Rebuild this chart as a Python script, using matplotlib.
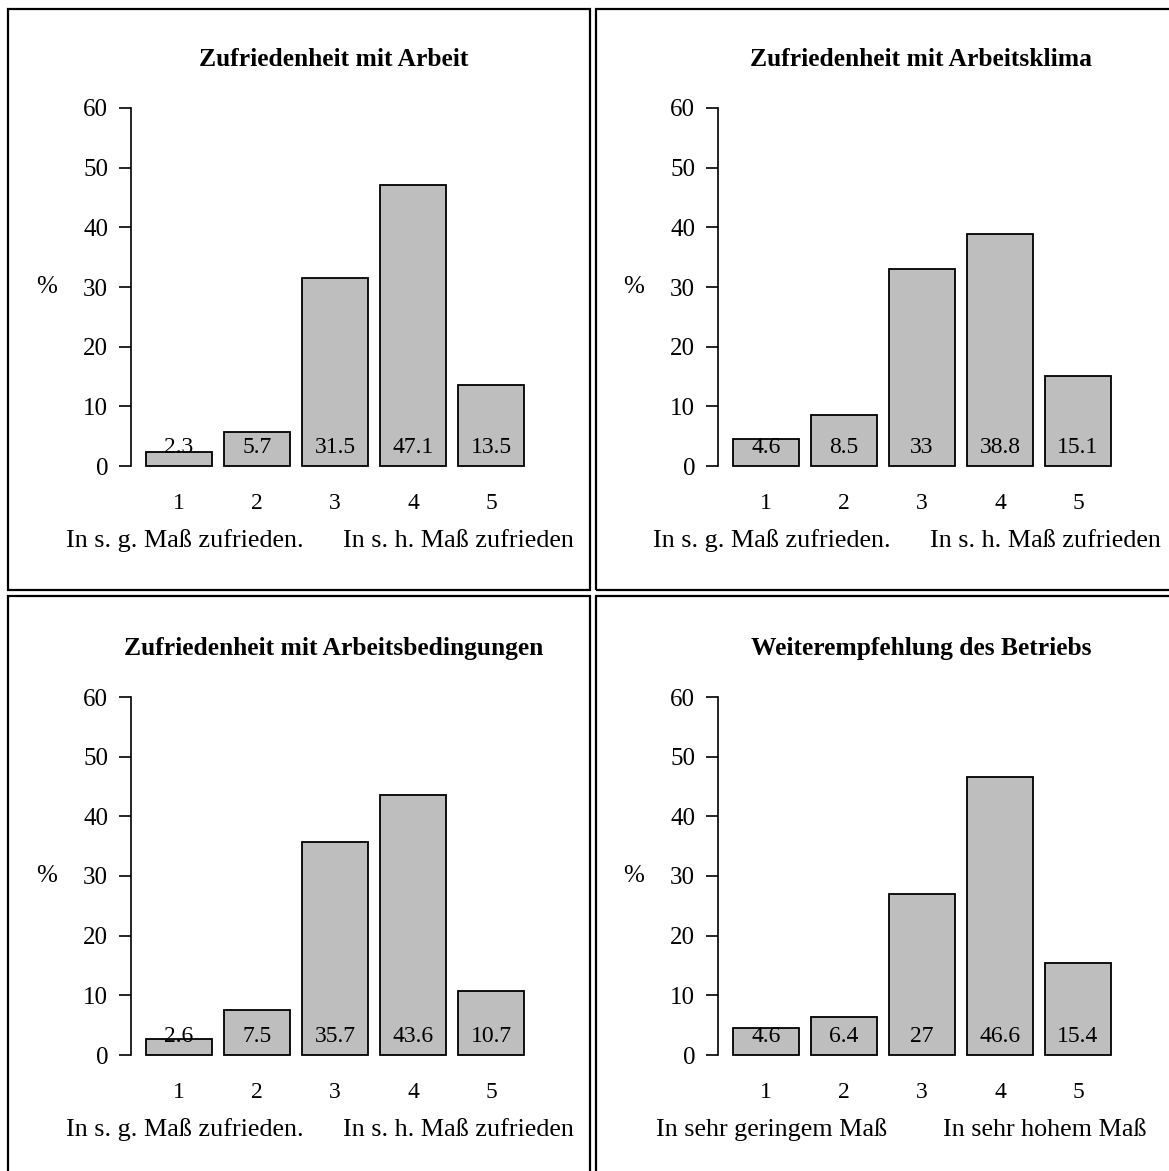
"""Four-panel bar chart: satisfaction survey (R base-graphics look)."""

import matplotlib
matplotlib.use("Agg")
import matplotlib.pyplot as plt
from matplotlib.patches import Rectangle

plt.rcParams["font.family"] = ["Liberation Serif", "DejaVu Serif"]

W, H = 1169, 1171

CATEGORIES = [1, 2, 3, 4, 5]
TITLES = [
    "Zufriedenheit mit Arbeit",
    "Zufriedenheit mit Arbeitsklima",
    "Zufriedenheit mit Arbeitsbedingungen",
    "Weiterempfehlung des Betriebs",
]
VALUES = [
    [2.3, 5.7, 31.5, 47.1, 13.5],
    [4.6, 8.5, 33, 38.8, 15.1],
    [2.6, 7.5, 35.7, 43.6, 10.7],
    [4.6, 6.4, 27, 46.6, 15.4],
]
LOW_LABELS = ["In s. g. Maß zufrieden.", "In s. g. Maß zufrieden.",
              "In s. g. Maß zufrieden.", "In sehr geringem Maß"]
HIGH_LABELS = ["In s. h. Maß zufrieden", "In s. h. Maß zufrieden",
               "In s. h. Maß zufrieden", "In sehr hohem Maß"]
Y_TICKS = [0, 10, 20, 30, 40, 50, 60]

# panel offsets in pixels (top-left corner of each framed panel)
OFFSETS = [(0, 0), (587, 0), (0, 589), (587, 589)]
BAR_UNIT = 78.0      # pixels per category step
AX_LEFT = 131        # y-axis position in pixels (panel 1)
AX_ZERO = 466        # y pixel of value 0 (panel 1)
AX_TOP = 108         # y pixel of value 60 (panel 1)
PX_PER_UNIT = (AX_ZERO - AX_TOP) / 60


def fx(px):
    return px / W


def fy(py):
    return 1 - py / H


def data_x(px):
    # pixel x (panel 1) -> data x
    return 1 + (px - 179) / BAR_UNIT


def data_y(py):
    # pixel y (panel 1) -> data y
    return (AX_ZERO - py) / PX_PER_UNIT


fig = plt.figure(figsize=(W / 100, H / 100), dpi=100)

# frames around the panels
frames = [(8, 9, 590, 590), (596, 9, 1175, 590), (8, 596, 590, 1180), (596, 596, 1175, 1180)]
for x0, y0, x1, y1 in frames:
    fig.patches.append(Rectangle((fx(x0), fy(y1)), fx(x1 - x0), (y1 - y0) / H,
                                 transform=fig.transFigure, fill=False,
                                 edgecolor="black", linewidth=1.6))

x_left = data_x(AX_LEFT)
x_right = 5.75
for i, (dx, dy) in enumerate(OFFSETS):
    left = AX_LEFT + dx
    width = (x_right - x_left) * BAR_UNIT
    ax = fig.add_axes([fx(left), fy(AX_ZERO + dy), fx(width), (AX_ZERO - AX_TOP) / H])
    ax.set_xlim(x_left, x_right)
    ax.set_ylim(0, 60)
    ax.patch.set_visible(False)
    for s in ["top", "right", "bottom"]:
        ax.spines[s].set_visible(False)
    ax.spines["left"].set_linewidth(1.2)
    ax.spines["left"].set_bounds(0, 60)
    ax.set_xticks([])
    ax.set_yticks(Y_TICKS)
    ax.tick_params(axis="y", length=8.5, width=1.2, pad=8, labelsize=18)

    ax.bar(CATEGORIES, VALUES[i], width=66 / BAR_UNIT, color="#bebebe",
           edgecolor="black", linewidth=1.3, clip_on=False)
    for c, v in zip(CATEGORIES, VALUES[i]):
        ax.text(c, data_y(447), f"{v:g}", ha="center", va="center", fontsize=17, zorder=5)
        ax.text(c, data_y(503), str(c), ha="center", va="center", fontsize=17, clip_on=False)

    ax.text(data_x(185), data_y(541), LOW_LABELS[i], ha="center",
            va="center", fontsize=18.8, clip_on=False)
    ax.text(data_x(458), data_y(541), HIGH_LABELS[i], ha="center",
            va="center", fontsize=18.8, clip_on=False)
    ax.text(data_x(47), 30, "%", ha="center", va="center",
            fontsize=18, clip_on=False)
    ax.text(data_x(334), data_y(60), TITLES[i],
            ha="center", va="center", fontsize=18.4, fontweight="bold", clip_on=False)

fig.savefig("out.png", dpi=100)
